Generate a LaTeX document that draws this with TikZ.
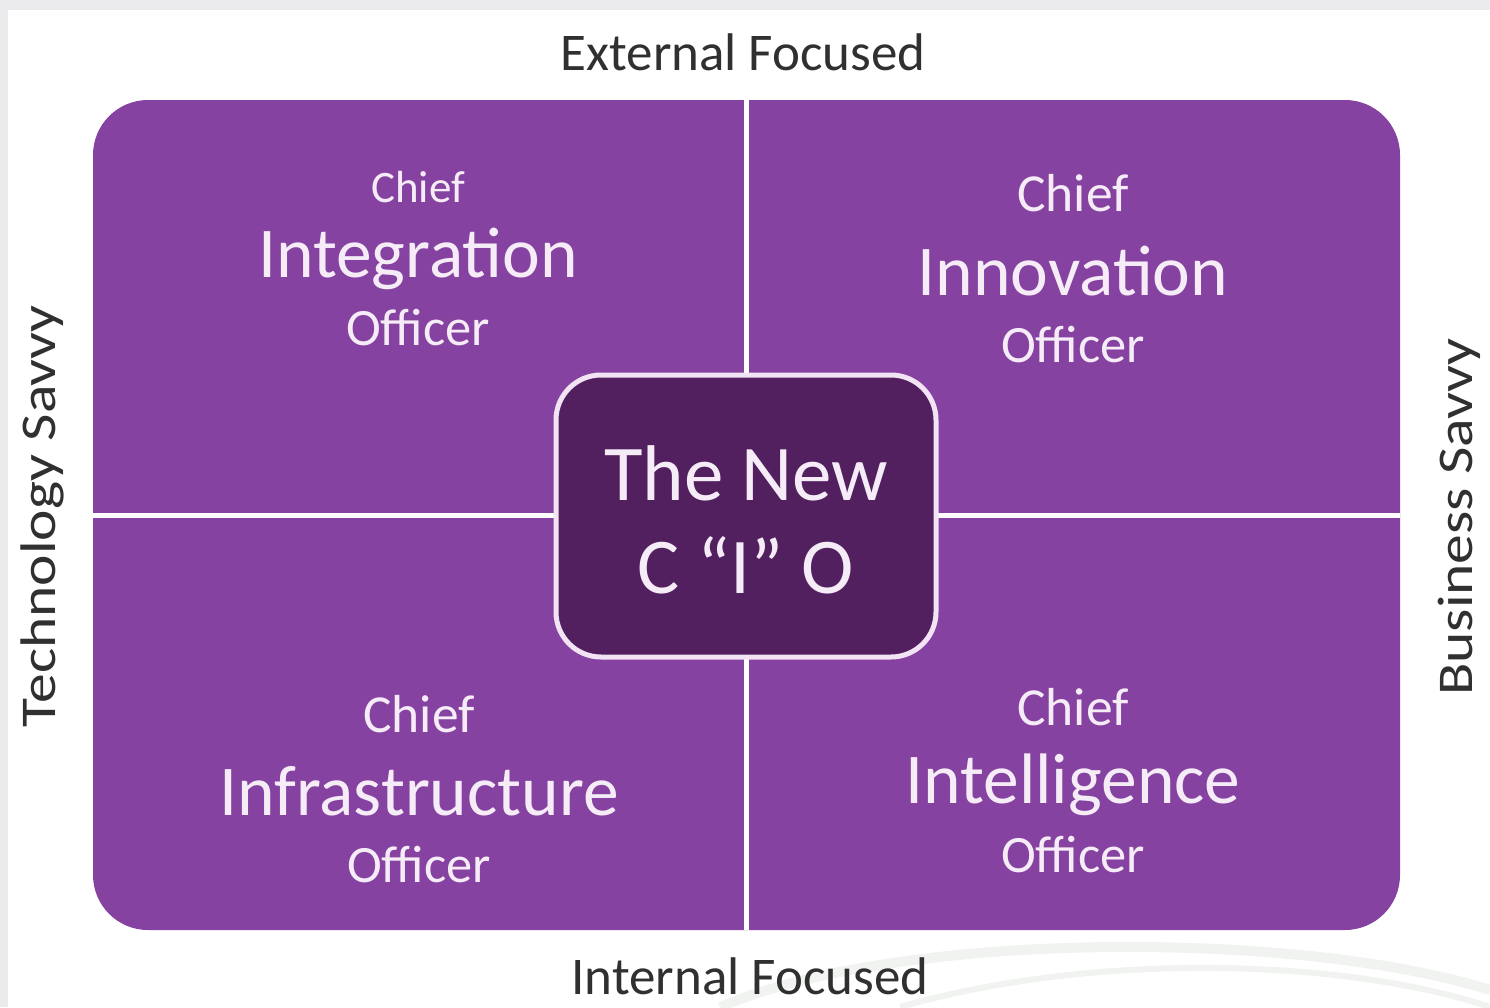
\documentclass[tikz,border=0pt]{standalone}
\usepackage{fontspec}
\setmainfont{Carlito}
\definecolor{quad}{HTML}{8642A0}
\definecolor{core}{HTML}{52205F}
\definecolor{rim}{HTML}{F2E4F4}
\definecolor{txtw}{HTML}{F6ECF8}
\definecolor{lbl}{HTML}{303030}
\definecolor{frame}{HTML}{EBEBED}
\definecolor{swoosh}{HTML}{F1F3F1}
\tikzset{
  fs/.style={font=\fontsize{#1}{#1}\selectfont},
  wtxt/.style={text=txtw, anchor=base, inner sep=0pt},
  ltxt/.style={text=lbl, anchor=base, inner sep=0pt, fs=53},
  stxt/.style={text=lbl, anchor=base, inner sep=0pt, fs=50, rotate=90},
}
\begin{document}
\begin{tikzpicture}[x=1pt,y=-1pt]
\useasboundingbox (0,0) rectangle (1490,1007);
\fill[frame] (0,0) rectangle (1490,1007);
\fill[white] (8,10) rectangle (1490,1007);
% faint swoosh
\draw[swoosh, line width=10pt] (720,1007) .. controls (900,930) and (1300,930) .. (1490,990);
\draw[swoosh, line width=6pt] (900,1007) .. controls (1100,950) and (1350,960) .. (1490,1007);
% quadrant block
\node[draw=none, fill=quad, rounded corners=55pt, minimum width=1307pt, minimum height=830pt, inner sep=0pt] (block) at (746.5,515) {};
\draw[white, line width=5pt] (block.north) -- (block.south);
\draw[white, line width=5pt] (block.west) -- (block.east);
% centre
\node[draw=rim, line width=5pt, fill=core, rounded corners=45pt, minimum width=380pt, minimum height=282pt, inner sep=0pt] (core) at (746,516) {};
\node[wtxt, fs=79] (new1) at (746,500) {The New};
\node[wtxt, fs=79] (new2) at (746,593) {C “I” O};
% top left
\node[wtxt, fs=45] (tl1) at (418,202) {Chief};
\node[wtxt, fs=71.5] (tl2) at (418,277) {Integration};
\node[wtxt, fs=52.5] (tl3) at (418,345) {Officer};
% top right
\node[wtxt, fs=53.5] (tr1) at (1073,211) {Chief};
\node[wtxt, fs=71.5] (tr2) at (1073,295) {Innovation};
\node[wtxt, fs=52.5] (tr3) at (1073,362) {Officer};
% bottom left
\node[wtxt, fs=53.5] (bl1) at (419,732) {Chief};
\node[wtxt, fs=71.5] (bl2) at (419,815) {Infrastructure};
\node[wtxt, fs=52.5] (bl3) at (419,882) {Officer};
% bottom right
\node[wtxt, fs=53.5] (br1) at (1073,725) {Chief};
\node[wtxt, fs=71.5] (br2) at (1073,803) {Intelligence};
\node[wtxt, fs=52.5] (br3) at (1073,872) {Officer};
% axis labels
\node[ltxt] (ext) at (743,70) {External Focused};
\node[ltxt] (int) at (750,994) {Internal Focused};
\node[stxt] (tech) at (55,516) {\scalebox{1.19}[1]{Technology Savvy}};
\node[stxt] (bus) at (1472,517) {\scalebox{1.19}[1]{Business Savvy}};
\end{tikzpicture}
\end{document}
